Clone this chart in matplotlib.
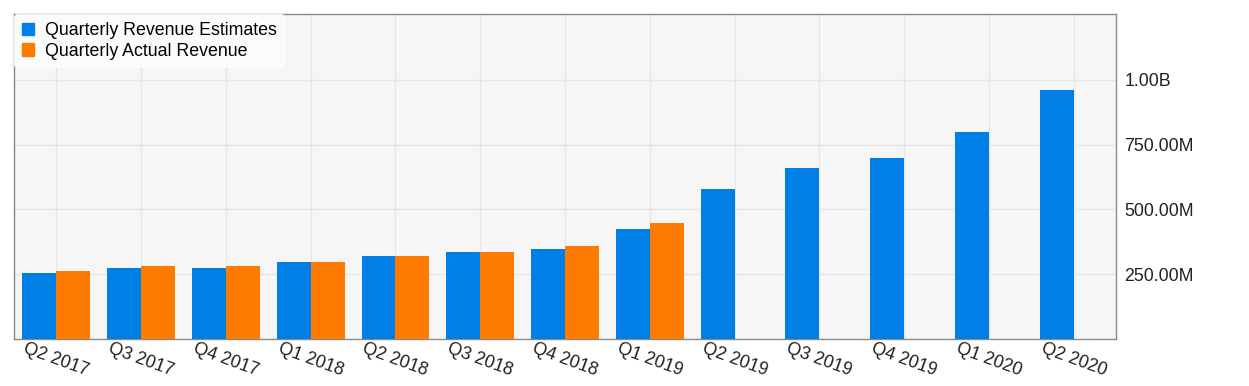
import numpy as np
import matplotlib.pyplot as plt
from matplotlib.ticker import FuncFormatter
from matplotlib.patches import Patch

plt.rcParams['font.family'] = ['Liberation Sans', 'DejaVu Sans']

# data
quarters = ['Q2 2017', 'Q3 2017', 'Q4 2017', 'Q1 2018', 'Q2 2018', 'Q3 2018', 'Q4 2018',
            'Q1 2019', 'Q2 2019', 'Q3 2019', 'Q4 2019', 'Q1 2020', 'Q2 2020']
estimates = [256e6, 273e6, 273e6, 296e6, 319e6, 337e6, 349e6,
             423e6, 580e6, 660e6, 700e6, 799e6, 962e6]
actuals = [261e6, 280e6, 280e6, 296e6, 319e6, 337e6, 360e6, 446e6]

blue = '#0080E6'
orange = '#FF7B00'
fs = 12.8

fig = plt.figure(figsize=(12.49, 3.86), dpi=100)
ax = fig.add_axes([14 / 1249, 47 / 386, 1102 / 1249, 325 / 386])
ax.set_facecolor('#F6F6F6')

x = np.arange(len(quarters))
w = 0.4
ax.bar(x - w / 2, estimates, w, color=blue, zorder=3)
ax.bar(x[:len(actuals)] + w / 2, actuals, w, color=orange, zorder=3)

ax.set_xlim(-0.5, len(quarters) - 0.5)
ax.set_ylim(0, 1.254e9)
ax.set_yticks([250e6, 500e6, 750e6, 1000e6])


def fmt(v, pos):
    if v >= 1e9:
        return f'{v / 1e9:.2f}B'
    return f'{v / 1e6:.2f}M'


ax.yaxis.set_major_formatter(FuncFormatter(fmt))
ax.yaxis.tick_right()
ax.tick_params(axis='y', length=0, pad=6, labelsize=fs, labelcolor='#222222')
ax.set_xticks(x)
ax.set_xticklabels(quarters, rotation=-20, ha='center')
ax.tick_params(axis='x', length=0, pad=1, labelsize=fs, labelcolor='#222222')

ax.grid(True, color='#E6E6E6', linewidth=1, zorder=0)
for s in ax.spines.values():
    s.set_color('#8A8A8A')
    s.set_linewidth(1)

handles = [Patch(color=blue), Patch(color=orange)]
leg = ax.legend(handles, ['Quarterly Revenue Estimates', 'Quarterly Actual Revenue'],
                loc='upper left', bbox_to_anchor=(0, 1), frameon=True, fontsize=fs,
                handlelength=0.7, handleheight=0.7, handletextpad=0.6,
                borderaxespad=0.0, borderpad=0.45, labelspacing=0.2)
leg.get_frame().set_facecolor('#FCFCFC')
leg.get_frame().set_edgecolor('none')
leg.get_frame().set_alpha(0.9)

fig.savefig('out.png', dpi=100)
